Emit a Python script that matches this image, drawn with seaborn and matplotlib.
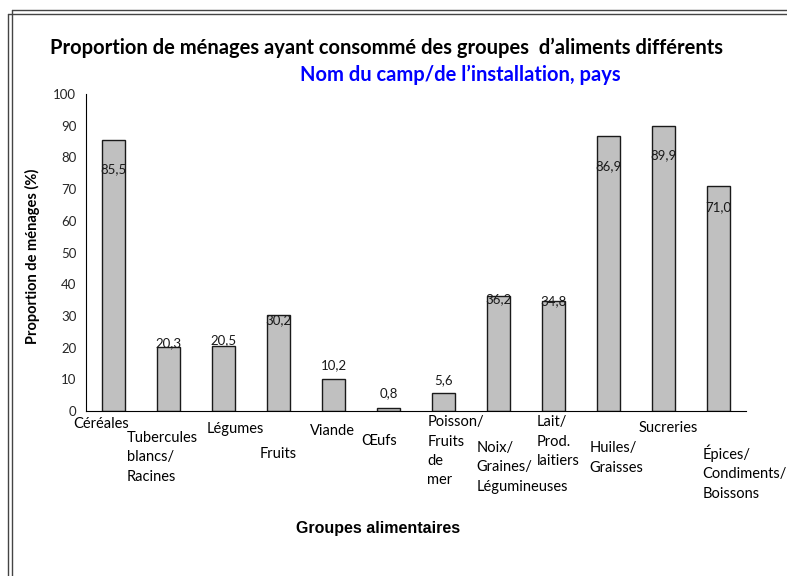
import matplotlib
matplotlib.use("Agg")
import matplotlib.pyplot as plt
import seaborn as sns
from matplotlib.lines import Line2D

categories = ["Céréales", "Tubercules\nblancs/\nRacines", "Légumes", "Fruits", "Viande",
              "Œufs", "Poisson/\nFruits\nde\nmer", "Noix/\nGraines/\nLégumineuses",
              "Lait/\nProd.\nlaitiers", "Huiles/\nGraisses", "Sucreries",
              "Épices/\nCondiments/\nBoissons"]
values = [85.5, 20.3, 20.5, 30.2, 10.2, 0.8, 5.6, 36.2, 34.8, 86.9, 89.9, 71.0]
value_labels = ["85,5", "20,3", "20,5", "30,2", "10,2", "0,8", "5,6", "36,2",
                "34,8", "86,9", "89,9", "71,0"]
y_ticks = list(range(0, 101, 10))

# layout tweaks (Excel-like placement of labels)
label_shift = [-9.2, 1.1, 1.9, -1.7, 4.3, 4.9, 4.2, -0.9, 0.0, -9.6, -9.1, -6.6]
tick_dx = [-40, -42, -17, -19, -24, -27, -16, -22, -17, -19, -25, -16]
tick_top = [417, 431, 422, 447, 424, 434, 415, 441, 415, 441, 421, 444]

sns.set_theme(style="white")
plt.rcParams["font.family"] = ["Lato", "DejaVu Sans"]

fig = plt.figure(figsize=(7.87, 5.76), dpi=100)
ax = fig.add_axes([86 / 787, 1 - 411 / 576, 660 / 787, 317 / 576])

idx = list(range(len(values)))
sns.barplot(x=idx, y=values, color="#C0C0C0", edgecolor="#1a1a1a", linewidth=1,
            width=0.42, saturation=1, ax=ax)

ax.set_xlim(-0.5, len(values) - 0.5)
ax.set_ylim(0, 100)
ax.set_yticks(y_ticks)
ax.set_yticklabels([str(t) for t in y_ticks], fontsize=9.5)
ax.set_xticks([i - 0.5 for i in range(len(values) + 1)])
ax.set_xticklabels([])
ax.tick_params(axis="y", direction="out", length=4, width=0.8, color="black", pad=3)
ax.tick_params(axis="x", direction="out", length=5, width=0.8, color="black")
for s in ["top", "right"]:
    ax.spines[s].set_visible(False)
for s in ["left", "bottom"]:
    ax.spines[s].set_color("black")
    ax.spines[s].set_linewidth(0.8)
ax.set_xlabel("")
ax.set_ylabel("")

for i, (v, t, sh) in enumerate(zip(values, value_labels, label_shift)):
    ax.text(i, v + sh, t, ha="center", va="center", fontsize=9.5, color="#1a1a1a")

for i, (lab, dx, top) in enumerate(zip(categories, tick_dx, tick_top)):
    ax.annotate(lab, xy=(i, 0), xycoords=("data", "axes fraction"),
                xytext=(dx, -(top - 411) * 1.0), textcoords="offset pixels",
                ha="left", va="top", fontsize=10.5, linespacing=1.5, color="black")

fig.text(386 / 787, 1 - 48 / 576,
         "Proportion de ménages ayant consommé des groupes  d’aliments différents",
         ha="center", va="center", fontsize=14.5, fontweight="bold", color="black")
fig.text(460 / 787, 1 - 75 / 576, "Nom du camp/de l’installation, pays",
         ha="center", va="center", fontsize=14.5, fontweight="bold", color="#0000FF")
fig.text(32 / 787, 1 - 256 / 576, "Proportion de ménages (%)", rotation=90,
         ha="center", va="center", fontsize=10.5, fontweight="bold", color="black")
fig.text(378 / 787, 1 - 528 / 576, "Groupes alimentaires", ha="center", va="center",
         fontsize=11.5, fontweight="bold", color="black",
         family=["Liberation Sans", "DejaVu Sans"])

# double frame on the left/top, like the source document
for (x0, y0) in [(12, 9.5), (8, 13.5)]:
    fig.add_artist(Line2D([x0 / 787, 1], [1 - y0 / 576, 1 - y0 / 576],
                          transform=fig.transFigure, color="#444444", lw=1.0))
    fig.add_artist(Line2D([x0 / 787, x0 / 787], [1 - y0 / 576, 0],
                          transform=fig.transFigure, color="#444444", lw=1.0))

fig.savefig("out.png", dpi=100)
